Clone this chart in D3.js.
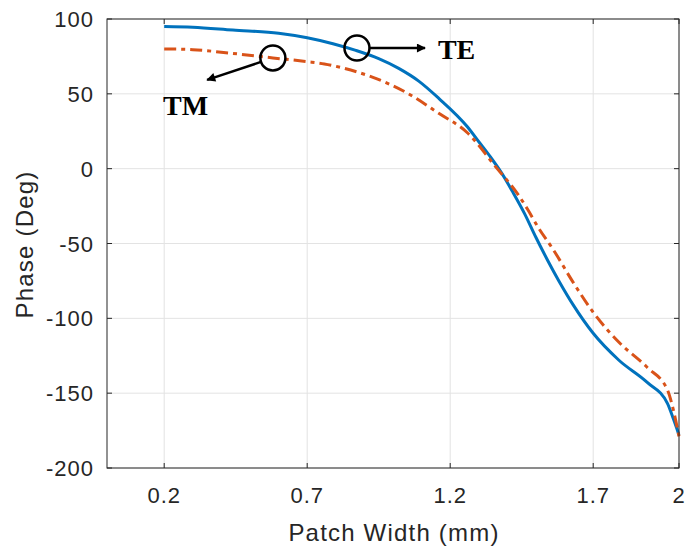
<!DOCTYPE html>
<html>
<head>
<meta charset="utf-8">
<script src="https://cdn.jsdelivr.net/npm/d3@7"></script>
<style>
  body { margin: 0; background: #fff; }
  text { font-family: "Liberation Sans", Arial, sans-serif; fill: #262626; }
  .tick-label { font-size: 22px; letter-spacing: 1px; }
  .axis-title { font-size: 24px; letter-spacing: 1.2px; }
  .note { font-family: "Liberation Serif", "Times New Roman", serif; font-weight: bold; font-size: 28px; fill: #000; }
</style>
</head>
<body>
<svg id="chart"></svg>
<script>
// Phase vs patch width, TE (solid) and TM (dash-dot)
const teX = [0.2, 0.3, 0.44, 0.6, 0.7, 0.79, 0.87, 0.95, 1.02, 1.09, 1.16, 1.26, 1.30, 1.34, 1.38, 1.42, 1.46, 1.50, 1.54, 1.58, 1.63, 1.70, 1.79, 1.89, 1.96, 1.98, 2.0];
const teY = [95, 94.5, 92.6, 90.5, 87.5, 83.5, 79, 73.5, 67, 58.5, 47, 28, 18, 8, -3, -16, -30, -46, -61, -75, -91, -110, -128, -143, -157, -167, -178];
const tmX = [0.2, 0.3, 0.44, 0.58, 0.7, 0.76, 0.82, 0.93, 1.05, 1.16, 1.26, 1.36, 1.44, 1.47, 1.51, 1.56, 1.63, 1.70, 1.79, 1.89, 1.96, 1.98, 2.0];
const tmY = [80, 79.5, 77, 74, 71.5, 70, 67.5, 61, 50.5, 37, 24, 1, -18, -27, -40, -54, -76, -96, -116, -133, -148, -161, -179];

const xTicks = [0.2, 0.7, 1.2, 1.7, 2];
const yTicks = [100, 50, 0, -50, -100, -150, -200];

// annotations, in data units
const notes = [
  { label: 'TM', circle: [0.58, 74], arrowTo: [0.35, 59.3], text: [0.196, 35.9] },
  { label: 'TE', circle: [0.874, 80.6], arrowTo: [1.112, 80.6], text: [1.157, 73.3] }
];

const W = 685, H = 548;
const margin = { top: 19, right: 6, bottom: 80, left: 107 };
const width = W - margin.left - margin.right;
const height = H - margin.top - margin.bottom;

const svg = d3.select('#chart').attr('width', W).attr('height', H);

const defs = svg.append('defs');
defs.append('marker')
  .attr('id', 'head')
  .attr('viewBox', '0 0 10 10')
  .attr('refX', 9).attr('refY', 5)
  .attr('markerWidth', 4.4).attr('markerHeight', 3.6)
  .attr('markerUnits', 'strokeWidth')
  .attr('orient', 'auto')
  .append('path')
  .attr('d', 'M0,0 L10,5 L0,10 Z')
  .attr('fill', '#000');

const g = svg.append('g').attr('transform', `translate(${margin.left},${margin.top})`);

const x = d3.scaleLinear().domain([0, 2]).range([0, width]);
const y = d3.scaleLinear().domain([-200, 100]).range([height, 0]);

// grid
g.selectAll('.gx').data(xTicks).join('line')
  .attr('x1', d => x(d)).attr('x2', d => x(d))
  .attr('y1', 0).attr('y2', height)
  .attr('stroke', '#e3e3e3').attr('stroke-width', 1);
g.selectAll('.gy').data(yTicks).join('line')
  .attr('x1', 0).attr('x2', width)
  .attr('y1', d => y(d)).attr('y2', d => y(d))
  .attr('stroke', '#e3e3e3').attr('stroke-width', 1);

// curves
const line = d3.line().x(d => x(d[0])).y(d => y(d[1])).curve(d3.curveMonotoneX);

g.append('path')
  .datum(teX.map((v, i) => [v, teY[i]]))
  .attr('d', line)
  .attr('fill', 'none')
  .attr('stroke', '#0072BD')
  .attr('stroke-width', 3);

g.append('path')
  .datum(tmX.map((v, i) => [v, tmY[i]]))
  .attr('d', line)
  .attr('fill', 'none')
  .attr('stroke', '#D95319')
  .attr('stroke-width', 3)
  .attr('stroke-dasharray', '12,5,4,5');

// box + inward ticks
const axisCol = '#262626';
g.append('rect')
  .attr('width', width).attr('height', height)
  .attr('fill', 'none').attr('stroke', axisCol).attr('stroke-width', 1);

const tl = 5;
xTicks.forEach(t => {
  g.append('line').attr('x1', x(t)).attr('x2', x(t)).attr('y1', height).attr('y2', height - tl).attr('stroke', axisCol);
  g.append('line').attr('x1', x(t)).attr('x2', x(t)).attr('y1', 0).attr('y2', tl).attr('stroke', axisCol);
});
yTicks.forEach(t => {
  g.append('line').attr('x1', 0).attr('x2', tl).attr('y1', y(t)).attr('y2', y(t)).attr('stroke', axisCol);
  g.append('line').attr('x1', width).attr('x2', width - tl).attr('y1', y(t)).attr('y2', y(t)).attr('stroke', axisCol);
});

// tick labels
g.selectAll('.xl').data(xTicks).join('text')
  .attr('class', 'tick-label')
  .attr('x', d => x(d)).attr('y', height + 35)
  .attr('text-anchor', 'middle')
  .text(d => d);

g.selectAll('.yl').data(yTicks).join('text')
  .attr('class', 'tick-label')
  .attr('x', -13).attr('y', d => y(d) + 8)
  .attr('text-anchor', 'end')
  .text(d => d);

// axis titles
g.append('text')
  .attr('class', 'axis-title')
  .attr('x', (x(0) + x(2)) / 2 + 1).attr('y', height + 73)
  .attr('text-anchor', 'middle')
  .text('Patch Width (mm)');

g.append('text')
  .attr('class', 'axis-title')
  .attr('transform', `translate(${-74},${height / 2 + 1}) rotate(-90)`)
  .attr('text-anchor', 'middle')
  .text('Phase (Deg)');

// annotations
const r = 12.5;
notes.forEach(n => {
  const cx = x(n.circle[0]), cy = y(n.circle[1]);
  const ax = x(n.arrowTo[0]), ay = y(n.arrowTo[1]);
  const ang = Math.atan2(ay - cy, ax - cx);
  g.append('line')
    .attr('x1', cx + r * Math.cos(ang)).attr('y1', cy + r * Math.sin(ang))
    .attr('x2', ax).attr('y2', ay)
    .attr('stroke', '#000').attr('stroke-width', 2.5)
    .attr('marker-end', 'url(#head)');
  g.append('circle')
    .attr('cx', cx).attr('cy', cy).attr('r', r)
    .attr('fill', 'none').attr('stroke', '#000').attr('stroke-width', 2.5);
  g.append('text')
    .attr('class', 'note')
    .attr('x', x(n.text[0])).attr('y', y(n.text[1]))
    .text(n.label);
});
</script>
</body>
</html>
